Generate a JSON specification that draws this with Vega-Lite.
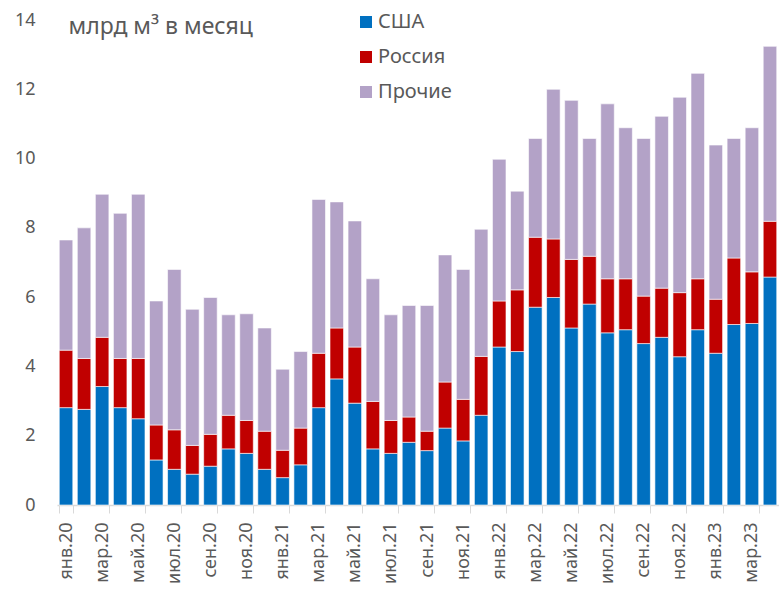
{
  "$schema": "https://vega.github.io/schema/vega-lite/v6.json",
  "width": 722,
  "height": 485,
  "autosize": {"type": "none"},
  "padding": {"left": 57, "top": 20, "right": 0, "bottom": 85},
  "background": "white",
  "config": {"view": {"stroke": null}, "font": "Noto Sans"},
  "data": {"values": [
    {"m": "янв.20", "США": 2.81, "Россия": 1.66, "Прочие": 3.18},
    {"m": "фев.20", "США": 2.76, "Россия": 1.47, "Прочие": 3.77},
    {"m": "мар.20", "США": 3.42, "Россия": 1.42, "Прочие": 4.13},
    {"m": "апр.20", "США": 2.81, "Россия": 1.42, "Прочие": 4.19},
    {"m": "май.20", "США": 2.49, "Россия": 1.74, "Прочие": 4.74},
    {"m": "июн.20", "США": 1.30, "Россия": 1.01, "Прочие": 3.58},
    {"m": "июл.20", "США": 1.03, "Россия": 1.14, "Прочие": 4.63},
    {"m": "авг.20", "США": 0.89, "Россия": 0.83, "Прочие": 3.93},
    {"m": "сен.20", "США": 1.12, "Россия": 0.92, "Прочие": 3.95},
    {"m": "окт.20", "США": 1.62, "Россия": 0.97, "Прочие": 2.90},
    {"m": "ноя.20", "США": 1.49, "Россия": 0.95, "Прочие": 3.08},
    {"m": "дек.20", "США": 1.03, "Россия": 1.10, "Прочие": 2.98},
    {"m": "янв.21", "США": 0.79, "Россия": 0.79, "Прочие": 2.34},
    {"m": "фев.21", "США": 1.16, "Россия": 1.06, "Прочие": 2.21},
    {"m": "мар.21", "США": 2.81, "Россия": 1.57, "Прочие": 4.44},
    {"m": "апр.21", "США": 3.64, "Россия": 1.47, "Прочие": 3.64},
    {"m": "май.21", "США": 2.94, "Россия": 1.62, "Прочие": 3.64},
    {"m": "июн.21", "США": 1.62, "Россия": 1.37, "Прочие": 3.54},
    {"m": "июл.21", "США": 1.49, "Россия": 0.95, "Прочие": 3.05},
    {"m": "авг.21", "США": 1.81, "Россия": 0.73, "Прочие": 3.22},
    {"m": "сен.21", "США": 1.57, "Россия": 0.56, "Прочие": 3.63},
    {"m": "окт.21", "США": 2.22, "Россия": 1.33, "Прочие": 3.67},
    {"m": "ноя.21", "США": 1.85, "Россия": 1.20, "Прочие": 3.75},
    {"m": "дек.21", "США": 2.59, "Россия": 1.70, "Прочие": 3.67},
    {"m": "янв.22", "США": 4.56, "Россия": 1.33, "Прочие": 4.09},
    {"m": "фев.22", "США": 4.43, "Россия": 1.78, "Прочие": 2.85},
    {"m": "мар.22", "США": 5.71, "Россия": 2.02, "Прочие": 2.85},
    {"m": "апр.22", "США": 5.99, "Россия": 1.69, "Прочие": 4.32},
    {"m": "май.22", "США": 5.11, "Россия": 1.98, "Прочие": 4.59},
    {"m": "июн.22", "США": 5.80, "Россия": 1.38, "Прочие": 3.40},
    {"m": "июл.22", "США": 4.97, "Россия": 1.56, "Прочие": 5.05},
    {"m": "авг.22", "США": 5.06, "Россия": 1.47, "Прочие": 4.36},
    {"m": "сен.22", "США": 4.66, "Россия": 1.37, "Прочие": 4.55},
    {"m": "окт.22", "США": 4.84, "Россия": 1.42, "Прочие": 4.96},
    {"m": "ноя.22", "США": 4.28, "Россия": 1.85, "Прочие": 5.64},
    {"m": "дек.22", "США": 5.06, "Россия": 1.47, "Прочие": 5.93},
    {"m": "янв.23", "США": 4.38, "Россия": 1.56, "Прочие": 4.45},
    {"m": "фев.23", "США": 5.21, "Россия": 1.92, "Прочие": 3.45},
    {"m": "мар.23", "США": 5.24, "Россия": 1.49, "Прочие": 4.16},
    {"m": "апр.23", "США": 6.58, "Россия": 1.61, "Прочие": 5.05}
  ]},
  "transform": [{"fold": ["США", "Россия", "Прочие"], "as": ["s", "v"]}],
  "mark": {"type": "bar", "stroke": "white", "strokeWidth": 0.6},
  "encoding": {
    "x": {
      "field": "m", "type": "nominal", "sort": null,
      "scale": {"paddingInner": 0.25, "paddingOuter": 0.125},
      "axis": {
        "title": null,
        "values": ["янв.20","мар.20","май.20","июл.20","сен.20","ноя.20","янв.21","мар.21","май.21","июл.21","сен.21","ноя.21","янв.22","мар.22","май.22","июл.22","сен.22","ноя.22","янв.23","мар.23"],
        "tickBand": "extent",
        "labelAngle": -90, "labelAlign": "right", "labelBaseline": "middle",
        "labelFontSize": 18, "labelColor": "#595959", "labelPadding": 9,
        "tickSize": 8, "tickColor": "#D9D9D9", "domainColor": "#D9D9D9", "domainWidth": 1.5,
        "grid": false
      }
    },
    "y": {
      "field": "v", "type": "quantitative", "stack": "zero",
      "scale": {"domain": [0, 14], "nice": false},
      "axis": {
        "values": [0, 2, 4, 6, 8, 10, 12, 14],
        "domain": false, "ticks": false, "grid": false,
        "labelFontSize": 18, "labelColor": "#595959", "labelPadding": 22,
        "title": "млрд м³ в месяц", "titleAngle": 0, "titleX": 11, "titleY": 13,
        "titleAlign": "left", "titleBaseline": "alphabetic",
        "titleFontSize": 23, "titleFontWeight": "normal", "titleColor": "#595959"
      }
    },
    "color": {
      "field": "s", "type": "nominal",
      "scale": {"domain": ["США", "Россия", "Прочие"], "range": ["#0070C0", "#C00000", "#B3A2C7"]},
      "legend": {
        "title": null, "orient": "none", "legendX": 299, "legendY": -8,
        "symbolType": "square", "symbolSize": 144, "symbolStrokeWidth": 0,
        "labelFontSize": 20, "labelColor": "#595959", "rowPadding": 15, "labelOffset": 2
      }
    },
    "order": {"field": "s", "sort": "descending"}
  }
}
